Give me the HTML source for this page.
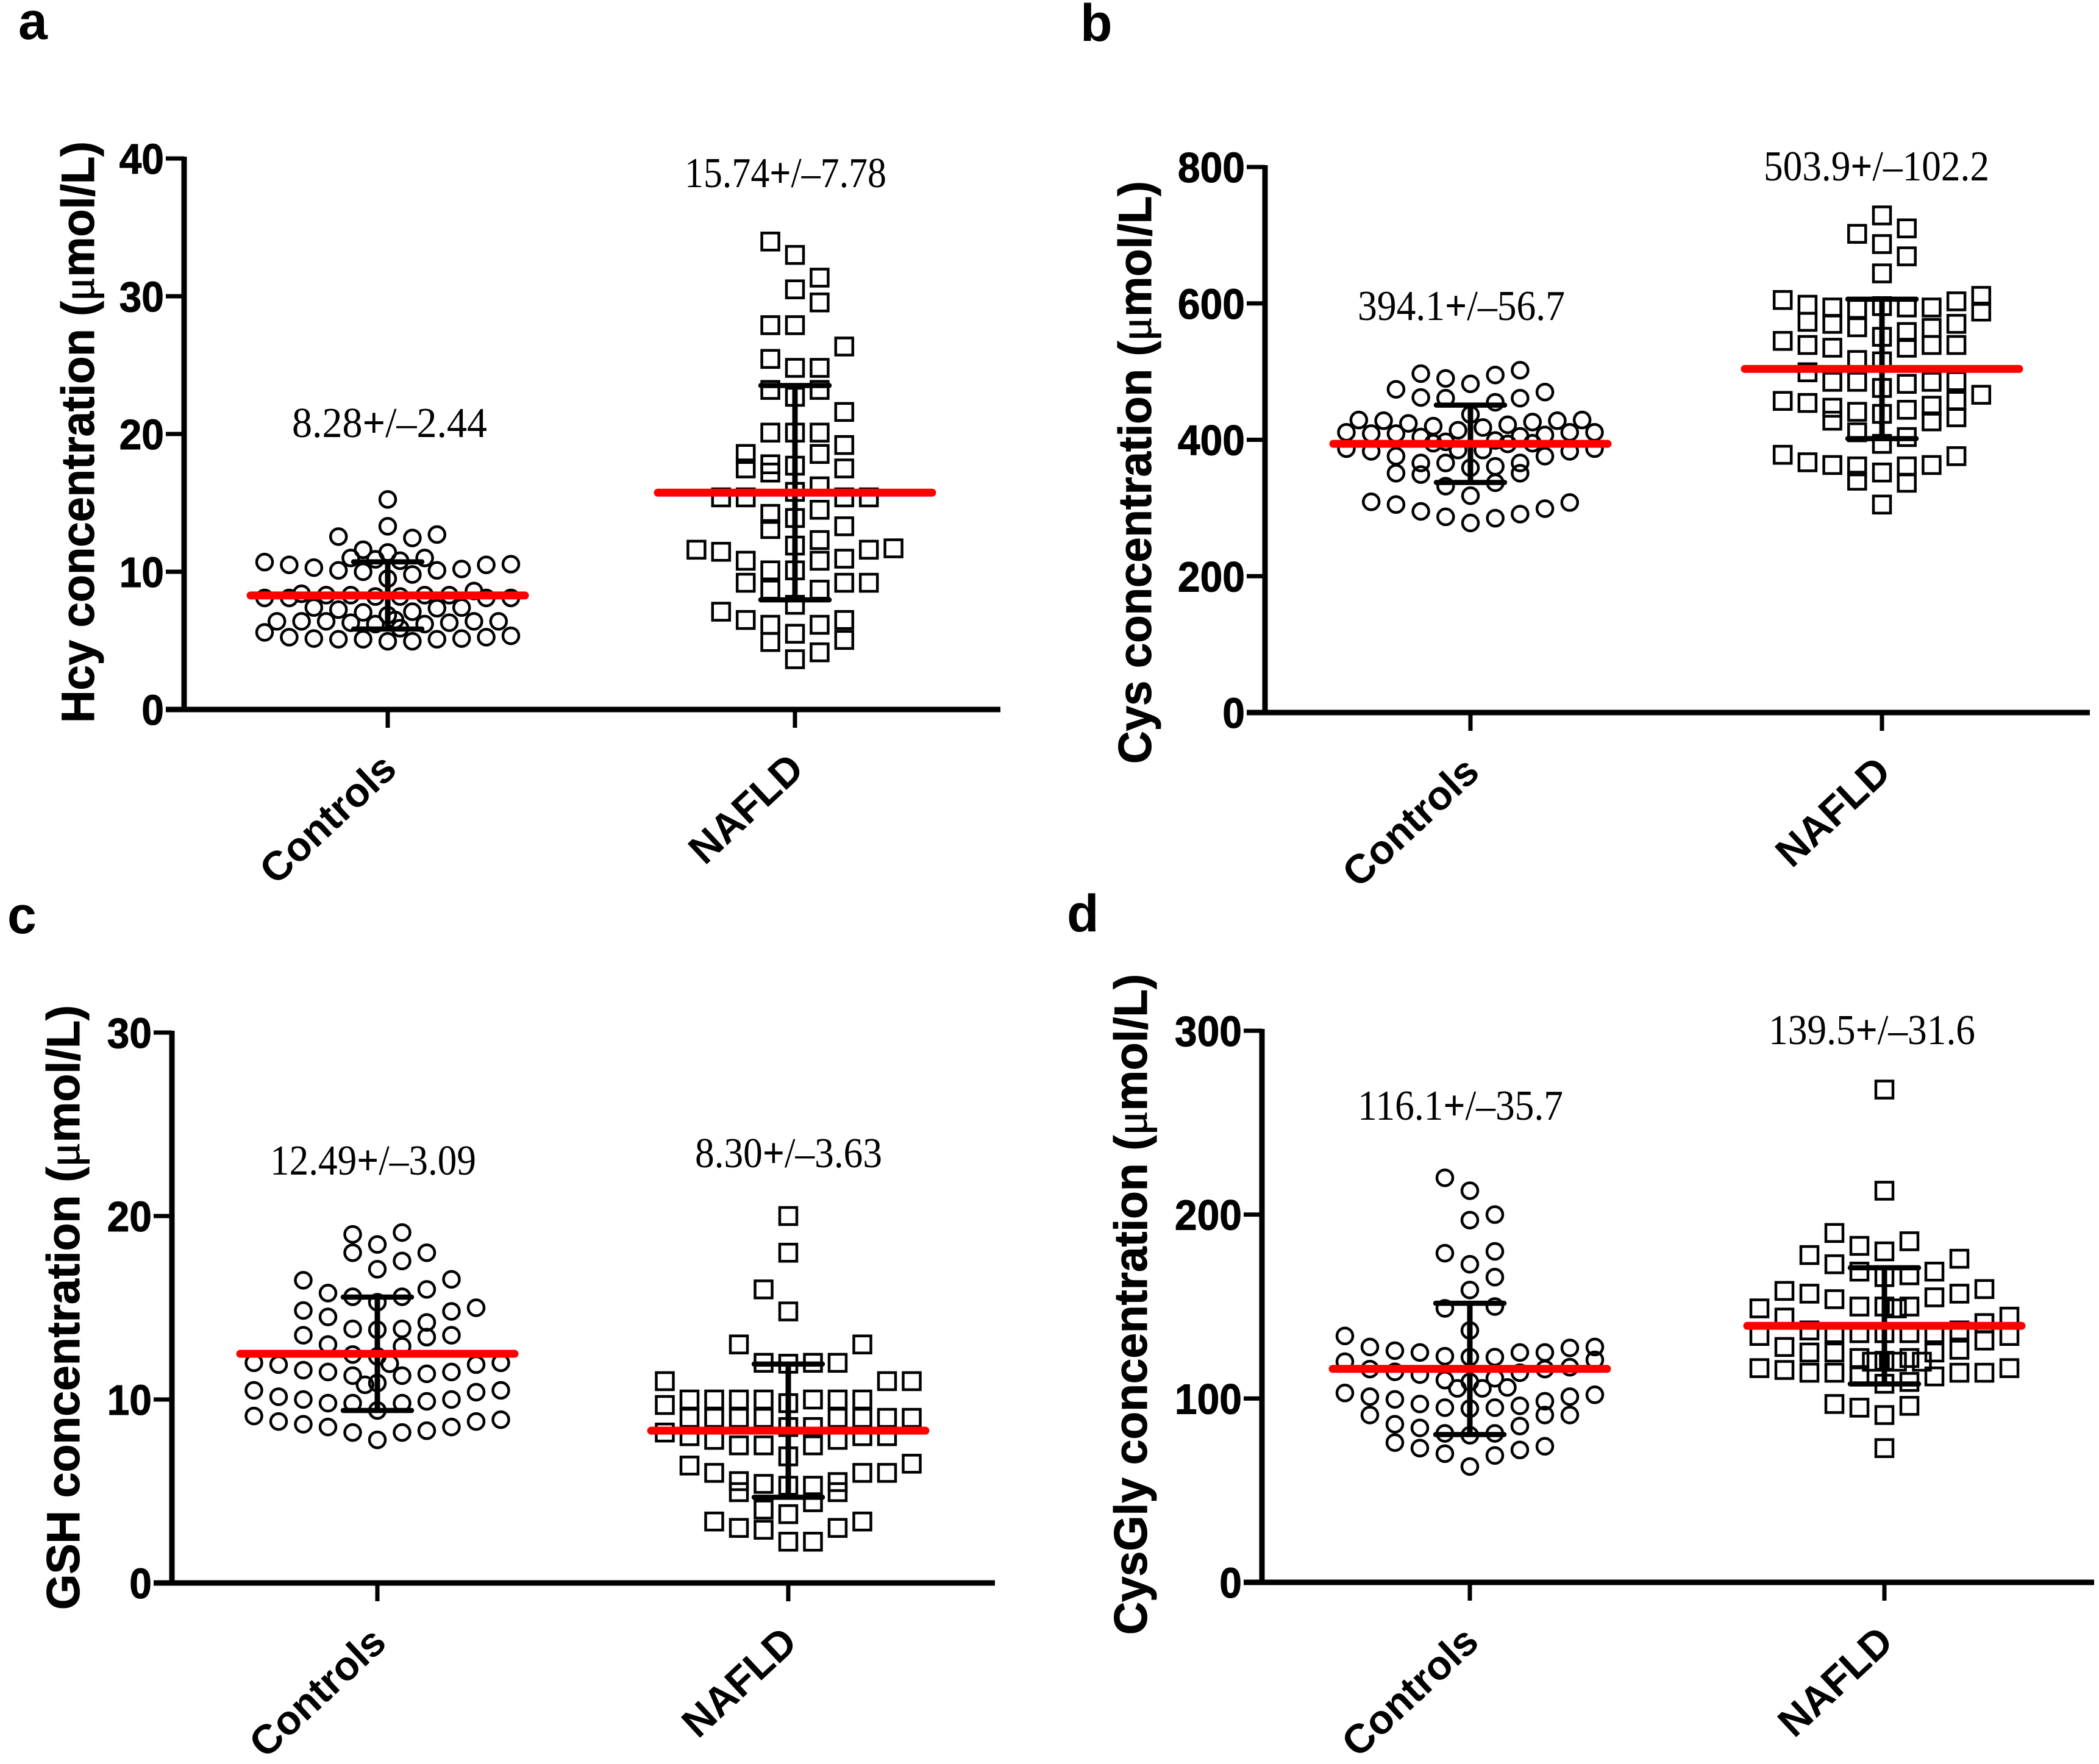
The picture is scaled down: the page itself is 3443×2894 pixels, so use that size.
<!DOCTYPE html>
<html lang="en">
<head>
<meta charset="utf-8">
<title>Plasma thiol concentrations in controls and NAFLD</title>
<style>
html,body{margin:0;padding:0;background:#fff;}
svg{display:block;}
text{font-family:"Liberation Sans",sans-serif;}
</style>
</head>
<body>
<svg id="chart" xmlns="http://www.w3.org/2000/svg" width="3443" height="2894" viewBox="0 0 3443 2894">
<rect width="3443" height="2894" fill="#fff"/>
</svg>
<script>
const categories = ['Controls', 'NAFLD'];

const aTitle = 'Hcy';
const aTicks = [0, 10, 20, 30, 40];
const aMeans = [8.28, 15.74];
const aSds = [2.44, 7.78];
const aLabels = ['8.28', '15.74', '2.44', '7.78'];
const aControlSlots = [0,0,-2,1,2,-1,0,-1.5,1.5,-0.5,0.5,-5,-4,-3,-2,-1,1,2,3,4,5,0,-5,-4,-3.5,-2.5,-1.5,-0.5,0.5,1.5,2.5,3.5,4,5,-3,-2,-1,0,1,2,3,-4.5,-3.5,-2.5,-1.5,-0.5,0.3,0.5,1.5,2.5,3.5,4.5,-5,-4,-3,-2,-1,0,1,2,3,4,5];
const aControlValues = [15.25,13.3,12.55,12.45,12.7,11.6,11.4,11,11,10.9,10.8,10.7,10.5,10.3,10.1,10,9.8,10.1,10.2,10.5,10.55,9.5,8.1,8.1,8.4,8.3,8.3,8.2,8.2,8.3,8.3,8.6,8.1,8.1,7.4,7.25,7.05,6.85,7.1,7.35,7.4,6.4,6.4,6.4,6.3,6.2,6.5,5.9,6.2,6.3,6.4,6.4,5.6,5.25,5.15,5.1,5.1,4.95,4.95,5.1,5.15,5.25,5.35];
const aNafldSlots = [-1,0,1,0,1,-1,0,2,-1,0,1,-1,1,0,2,-1,0,1,2,-2,1,-2,-1,-1,0,2,1,0,-3,-2,2,3,1,-1,0,-1,2,1,0,-4,-3,3,4,-2,1,2,-1,0,-2,2,3,-1,1,0,-3,-2,2,-1,1,0,2,-1,1,0];
const aNafldValues = [33.97,33,31.35,30.5,29.55,27.9,27.9,26.35,25.45,24.8,24.8,23.2,23.2,22.7,21.6,20.1,20.1,20.1,19.2,18.55,18.55,17.5,17.8,17.2,17.7,17.5,16.2,15.8,15.4,15.4,15.4,15.4,14.5,14.2,13.9,13.1,13.3,12.3,11.9,11.6,11.45,11.6,11.7,10.8,10.8,10.95,10.1,10.1,9.2,9.2,9.2,8.7,8.7,7.6,7.1,6.5,6.5,6.15,6.15,5.5,5.05,4.9,4.15,3.65];

const bTitle = 'Cys';
const bTicks = [0, 200, 400, 600, 800];
const bMeans = [394.1, 503.9];
const bSds = [56.7, 102.2];
const bLabels = ['394.1', '503.9', '56.7', '102.2'];
const bControlSlots = [2,-2,1,-1,0,-3,3,-2,-1,2,1,0,-4.5,4.5,-3.5,-2.5,3.5,2.5,1.5,-1.5,0.5,-0.5,-5,-4,-3,5,4,3,2,-2,1,-1,-1.5,2.5,1.5,-0.5,0.5,-5,-4,-3,4,5,3,2,-2,-1,1,0,-3,-2,2,1,-1,0,-4,4,-3,3,-2,2,-1,1,0];
const bControlValues = [502,497,495,490,482,474,470,462,461,461,455,437,429,429,428,424,428,426,422,420,418,414,411,409,409,411,411,407,405,404,399,397,395,395,394,385,385,387,383,376,383,387,376,366,366,366,361,359,351,349,351,337,332,318,309,308,305,299,295,291,287,285,278];
const bNafldSlots = [0,1,-1,0,1,0,4,-4,3,-3,0,-2,-1,1,2,4,-3,-2,3,-1,2,1,0,-4,-3,3,-2,2,1,-1,0,-3,-2,-1,1,2,3,0,4,-4,-3,3,2,1,-2,-1,0,3,-2,2,-1,1,0,-4,3,-3,-2,2,-1,1,0,-1,1,0];
const bNafldValues = [729,710,702,687,669,644,611,605,603,598,596,594,592,594,594,588,573,570,570,565,564,558,551,545,539,539,535,539,535,517,515,499,485,485,482,485,486,476,466,457,454,457,450,444,447,441,438,433,428,427,411,404,394,378,376,367,363,363,361,361,352,340,337,305];

const cTitle = 'GSH';
const cTicks = [0, 10, 20, 30];
const cMeans = [12.49, 8.30];
const cSds = [3.09, 3.63];
const cLabels = ['12.49', '8.30', '3.09', '3.63'];
const cControlSlots = [1,-1,0,-1,2,1,0,3,-3,2,-2,-1,1,0,4,-3,3,-2,2,-1,0,1,-3,2,3,-2,1,-1,0,-5,5,-4,4,0.5,-3,-2,3,2,1,-1,0,-0.5,-5,5,4,-4,-3,3,2,-2,-1,1,0,-5,5,4,-4,-3,-2,3,2,1,-1,0];
const cControlValues = [19.1,19,18.45,18,18,17.55,17.1,16.55,16.5,16,15.8,15.6,15.6,15.3,15,14.85,14.8,14.5,14.2,13.85,13.8,13.85,13.5,13.4,13.5,13,12.9,12.45,12.35,12,12,11.9,11.9,11.95,11.6,11.5,11.5,11.4,11.3,11.3,10.9,10.8,10.5,10.5,10.4,10.15,10,10,9.9,9.8,9.8,9.8,9.4,9.1,8.9,8.8,8.8,8.65,8.5,8.5,8.3,8.2,8.2,7.8];
const cNafldSlots = [0,0,-1,0,-2,3,-1,0,1,2,-5,4,5,-4,-3,-2,-1,1,2,3,0,-5,-4,-3,-2,-1,2,3,4,5,0,1,-5,-4,-3,-2,-1,1,2,3,4,0,-4,5,-3,3,4,-2,-1,0,1,2,-2,2,1,-1,0,-3,3,-2,-1,2,0,1];
const cNafldValues = [20,18,16,14.8,13,13,12,11.95,12,12,11,11,11,10,10,10,10,10,10,10,9.8,9.7,9,9,9,9,9,9,9,9,8.5,8.5,8.2,8,7.8,7.5,7.5,7.5,7.8,8,8,6.9,6.4,6.5,6,6,6,5.55,5.4,5.3,5.3,5.5,4.95,4.95,4.4,4,3.75,3.35,3.35,3,2.9,3,2.25,2.25];

const dTitle = 'CysGly';
const dTicks = [0, 100, 200, 300];
const dMeans = [116.1, 139.5];
const dSds = [35.7, 31.6];
const dLabels = ['116.1', '139.5', '35.7', '31.6'];
const dControlSlots = [-1,0,1,0,-1,1,0,1,0,-1,1,0,-5,-4,-3,-2,-1,0,1,2,3,4,5,-5,5,-4,-3,-2,2,3,4,1,-1,0,-0.5,0.5,1.5,-5,5,-4,4,-3,3,-2,2,-1,1,0,-4,3,4,-3,-2,2,-1,1,0,-3,3,-2,2,-1,1,0];
const dControlValues = [220,213,200,197,179,180,173,166,159,149,150,137,134,128,126,125,123,122.5,122.5,125,125,127.5,128,120,121,116,114.5,113,114,116,117,111,110,109,105.5,105.5,106,103,102,101,101,99.5,98.5,97,96,95,95,94.5,91,91,91,86,84,85,81,81,80,76,74,73,72,70,69,63];
const dNafldSlots = [0,0,-2,-1,1,0,-3,3,-2,-1,2,0,1,-4,4,-3,3,2,-2,-1,0,1,0.5,-5,-4,5,4,-3,-2,-1,0,1,2,3,-5,5,4,-4,-3,-2,3,2,-1,1,0,-0.5,1.5,0.5,-5,5,-4,-3,-2,3,4,2,-1,0,1,-2,1,-1,0,0];
const dNafldValues = [268,213,190,183,185.5,180,178,176,173,169,169,166,167,158.5,159.5,157,157,155,154,150,150,150,149,149,144,144.5,141,137,135.5,135.5,135.5,135.5,135.5,137,134,134,131.5,128,125,125,126.5,125,122,122,120.5,120,120,120,116.5,116.5,115.5,114,114,114,114,112,112,108,109,97,96,95,91,73];

const svgNS = 'http://www.w3.org/2000/svg';
const root = document.getElementById('chart');

function mk(parent, tag, attrs, text) {
  const el = document.createElementNS(svgNS, tag);
  for (const k in attrs) el.setAttribute(k, attrs[k]);
  if (text !== undefined) el.textContent = text;
  parent.appendChild(el);
  return el;
}

function drawAnnotation(g, label, x0, x1, base) {
  const t = mk(g, 'text', {
    x: x0 - 4, y: base, 'font-size': 70, 'textLength': x1 - x0 + 4, 'lengthAdjust': 'spacingAndGlyphs', fill: '#000',
    style: 'font-family:"Liberation Serif",serif'
  });
  
  
  t.appendChild(document.createTextNode(label[0]));
  const plus = mk(t, 'tspan', {'font-weight': 'bold'}, '+');
  
  
  t.appendChild(document.createTextNode('/\u2013' + label[1]));
}

function drawPanel(p) {
  const g = mk(root, 'g', {});
  
  

  const yScale = v => p.y0 - v / p.yMax * (p.y0 - p.yTop);
  const xScale = (cat, slot) => p.centers[cat] + slot * p.spacing;

  const letter = mk(g, 'text', {x: p.letterX, y: p.letterY, 'font-size': 86, 'font-weight': 'bold', fill: '#000'}, p.letter);
  
  

  const title = mk(g, 'text', {
    transform: 'translate(' + p.titleX + ',' + p.titleBottom + ') rotate(-90)',
    x: 0, y: 0, 'font-size': 76, 'font-weight': 'bold', fill: '#000',
    stroke: '#000', 'stroke-width': 1,
    textLength: p.titleBottom - p.titleTop, lengthAdjust: 'spacingAndGlyphs'
  });
  
  
  title.appendChild(document.createTextNode(p.title + ' concentration ('));
  const mu = mk(title, 'tspan', {style: 'font-family:"Liberation Serif",serif', 'font-weight': 'normal'}, '\u03bc');
  
  
  title.appendChild(document.createTextNode('mol/L)'));

  const yAxis = mk(g, 'line', {x1: p.axisX, x2: p.axisX, y1: p.yTop - 3, y2: p.y0 + 4, stroke: '#000', 'stroke-width': 9});
  
  
  const xAxis = mk(g, 'line', {x1: p.axisX - 30, x2: p.axisEnd, y1: p.y0, y2: p.y0, stroke: '#000', 'stroke-width': 9});
  
  

  p.ticks.forEach(v => {
    const y = yScale(v);
    const tick = mk(g, 'line', {x1: p.axisX - 30, x2: p.axisX, y1: y, y2: y, stroke: '#000', 'stroke-width': 7});
    
    
    const tickText = String(v);
    const lab = mk(g, 'text', {
      x: p.axisX - 33, y: y + 25, 'text-anchor': 'end', 'font-size': 70, 'font-weight': 'bold', fill: '#000',
      stroke: '#000', 'stroke-width': 1,
      textLength: tickText.length * 36.7, lengthAdjust: 'spacingAndGlyphs'
    }, tickText);
    
    
  });

  categories.forEach((c, i) => {
    const cx = p.centers[i];
    const tick = mk(g, 'line', {x1: cx, x2: cx, y1: p.y0, y2: p.y0 + 30, stroke: '#000', 'stroke-width': 7});
    
    
    const lab = mk(g, 'text', {
      transform: 'translate(' + (cx + 18) + ',' + (p.y0 + 102) + ') rotate(-43)',
      'text-anchor': 'end', 'font-size': 67, 'font-weight': 'bold', fill: '#000'
    }, c);
    
    
  });

  const series = [[p.controlSlots, p.controlValues], [p.nafldSlots, p.nafldValues]];
  series.forEach((s, i) => {
    const sg = mk(g, 'g', {fill: 'none', stroke: '#000', 'stroke-width': 4.5});
    
    
    s[1].forEach((v, j) => {
      const x = xScale(i, s[0][j]);
      const y = yScale(v);
      let m;
      if (i === 0) {
        m = mk(sg, 'circle', {cx: x, cy: y, r: 13});
      } else {
        m = mk(sg, 'rect', {x: x - 14, y: y - 14, width: 28, height: 28});
      }
      
      
    });
  });

  categories.forEach((c, i) => {
    const cx = p.centers[i];
    const hi = yScale(p.means[i] + p.sds[i]);
    const lo = yScale(p.means[i] - p.sds[i]);
    const stem = mk(g, 'line', {x1: cx, x2: cx, y1: hi, y2: lo, stroke: '#000', 'stroke-width': 9});
    
    
    [hi, lo].forEach(y => {
      const cap = mk(g, 'line', {x1: cx - 56, x2: cx + 56, y1: y, y2: y, stroke: '#000', 'stroke-width': 8.5, 'stroke-linecap': 'round'});
      
      
    });
    const my = yScale(p.means[i]);
    const mean = mk(g, 'line', {x1: cx - 225, x2: cx + 225, y1: my, y2: my, stroke: '#f00', 'stroke-width': 13, 'stroke-linecap': 'round'});
    
    
    const a = p.annot[i];
    drawAnnotation(g, [p.labels[i], p.labels[i + 2]], a[0], a[1], a[2]);
  });
}

drawPanel({letter: 'a', title: aTitle, ticks: aTicks, means: aMeans, sds: aSds, labels: aLabels,
  controlSlots: aControlSlots, controlValues: aControlValues, nafldSlots: aNafldSlots, nafldValues: aNafldValues,
  yMax: 40, y0: 1164, yTop: 260, axisX: 302, axisEnd: 1641, centers: [636, 1304], spacing: 40.4,
  letterX: 30, letterY: 64, titleX: 154, titleTop: 232, titleBottom: 1186,
  annot: [[483, 799, 717], [1127, 1454, 307]]});

drawPanel({letter: 'b', title: bTitle, ticks: bTicks, means: bMeans, sds: bSds, labels: bLabels,
  controlSlots: bControlSlots, controlValues: bControlValues, nafldSlots: bNafldSlots, nafldValues: bNafldValues,
  yMax: 800, y0: 1169, yTop: 274, axisX: 2075, axisEnd: 3428, centers: [2412, 3087], spacing: 40.7,
  letterX: 1772, letterY: 67, titleX: 1888, titleTop: 297, titleBottom: 1253,
  annot: [[2231, 2567, 525], [2897, 3263, 296]]});

drawPanel({letter: 'c', title: cTitle, ticks: cTicks, means: cMeans, sds: cSds, labels: cLabels,
  controlSlots: cControlSlots, controlValues: cControlValues, nafldSlots: cNafldSlots, nafldValues: cNafldValues,
  yMax: 30, y0: 2597, yTop: 1694, axisX: 282, axisEnd: 1632, centers: [619, 1293], spacing: 40.5,
  letterX: 12, letterY: 1531, titleX: 130, titleTop: 1649, titleBottom: 2641,
  annot: [[447, 781, 1927], [1144, 1447, 1915]]});

drawPanel({letter: 'd', title: dTitle, ticks: dTicks, means: dMeans, sds: dSds, labels: dLabels,
  controlSlots: dControlSlots, controlValues: dControlValues, nafldSlots: dNafldSlots, nafldValues: dNafldValues,
  yMax: 300, y0: 2596, yTop: 1691, axisX: 2070, axisEnd: 3435, centers: [2411, 3091], spacing: 41,
  letterX: 1750, letterY: 1528, titleX: 1881, titleTop: 1598, titleBottom: 2682,
  annot: [[2231, 2564, 1837], [2905, 3240, 1713]]});
</script>
</body>
</html>
